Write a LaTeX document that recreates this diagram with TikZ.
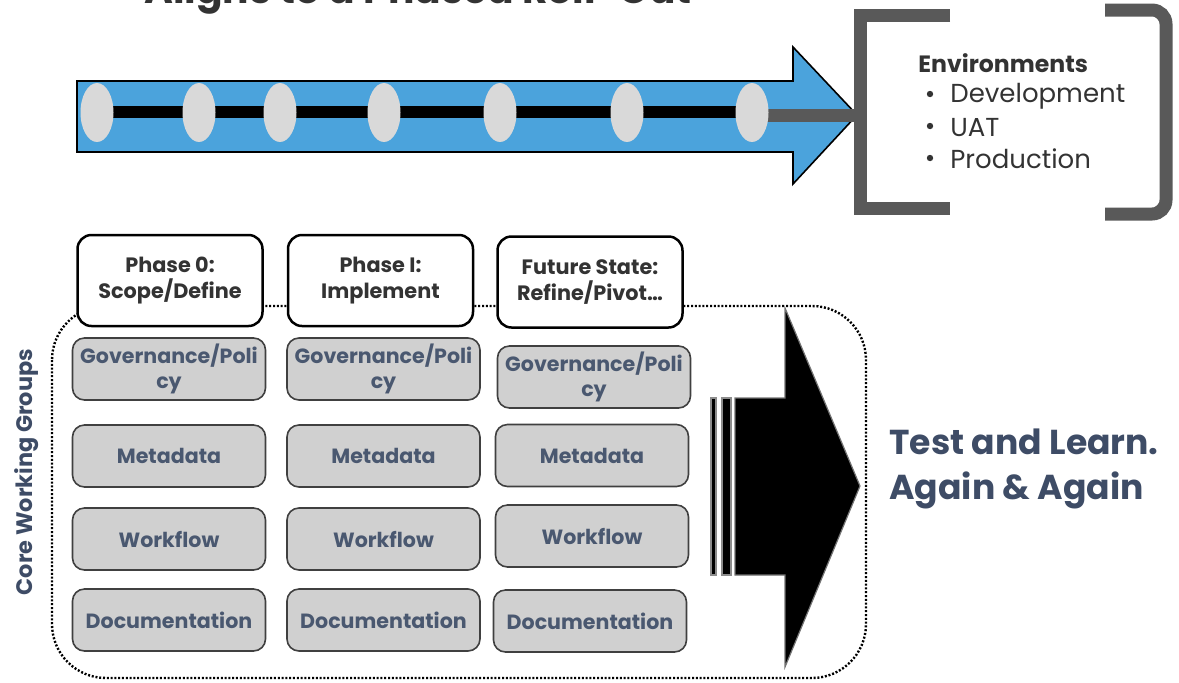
\documentclass[tikz,border=0pt]{standalone}
\usepackage{fontspec}
\setmainfont{Poppins}
\usetikzlibrary{shapes.geometric}
\definecolor{arrowblue}{HTML}{4BA3DC}
\definecolor{ellgray}{HTML}{D9D9D9}
\definecolor{brgray}{HTML}{595959}
\definecolor{boxgray}{HTML}{D0D0D0}
\definecolor{boxtext}{HTML}{4A5870}
\definecolor{slate}{HTML}{3E4C66}
\definecolor{darktext}{HTML}{333333}
\begin{document}
\begin{tikzpicture}[x=0.5pt,y=-0.5pt,
  dot/.style={ellipse, fill=ellgray, minimum width=16.5pt, minimum height=29.5pt, inner sep=0pt},
  phasebox/.style={draw=black, fill=white, line width=1.25pt, rounded corners=7pt,
    minimum width=92.5pt, minimum height=45.5pt, align=center, inner sep=1pt,
    font=\bfseries\fontsize{10.4}{13}\selectfont, text=darktext},
  groupbox/.style={draw=black!75, fill=boxgray, line width=0.8pt, rounded corners=6pt,
    minimum width=96.5pt, minimum height=31pt, align=center, inner sep=1pt,
    font=\bfseries\fontsize{10.3}{12.5}\selectfont, text=boxtext},
  bracket/.style={draw=brgray, line width=6.5pt},
  envitem/.style={anchor=west, font=\fontsize{13}{15}\selectfont, text=darktext, inner sep=0pt}
]
\useasboundingbox (0,0) rectangle (1179,682);
\clip (0,0) rectangle (1179,682);

% title (cut off at the top, as in the reference)
\node[anchor=base, font=\bfseries\fontsize{19.6}{24}\selectfont, text=darktext] (title) at (418,3) {Aligns to a Phased Roll-Out};

% blue timeline arrow
\draw[fill=arrowblue, line width=0.8pt] (77,81) -- (793,81) -- (793,47) -- (857,115) -- (793,184) -- (793,152) -- (77,152) -- cycle;
\fill[black] (97,106) rectangle (752,118);
\fill[brgray] (752,109) rectangle (858,122);
\foreach \n/\x in {1/97,2/199,3/280,4/384,5/500,6/627,7/752}
  \node[dot] (e\n) at (\x,112.5) {};

% brackets
\draw[bracket] (950,15) -- (860,15) -- (860,208.5) -- (950,208.5);
\draw[bracket, rounded corners=7pt] (1105,10) -- (1166,10) -- (1166,214) -- (1105,214);

% environments
\node[anchor=west, font=\bfseries\fontsize{11.8}{13}\selectfont, text=darktext, inner sep=0pt] (envhead) at (918,63) {Environments};
\node[envitem] (dev) at (950,96) {Development};
\node[envitem] (uat) at (950,128) {UAT};
\node[envitem] (prod) at (950,159) {Production};
\foreach \y in {94,126,158}
  \fill[darktext] (930,\y) circle (1.6pt);

% dotted container
\draw[line width=1.2pt, dash pattern=on 1pt off 0.9pt, rounded corners=27pt] (52,306) rectangle (866,678);

% black arrow
\draw[fill=black, draw=black!55, line width=0.6pt] (735,398) -- (785,398) -- (785,308) -- (860,486) -- (785,667) -- (785,575) -- (735,575) -- cycle;
\draw[fill=black, draw=black!45, line width=0.6pt] (711,398) rectangle (716,575);
\draw[fill=black, draw=black!45, line width=0.6pt] (722,398) rectangle (731,575);

% phase boxes
\node[phasebox] (p0) at (170,280.5) {Phase 0:\\Scope/Define};
\node[phasebox] (p1) at (380.5,280.5) {Phase I:\\Implement};
\node[phasebox] (p2) at (590,282) {Future State:\\Refine/Pivot\ldots};

% working groups
\node[groupbox] (g0) at (169,369) {Governance/Poli\\cy};
\node[groupbox] (m0) at (169,456) {Metadata};
\node[groupbox] (w0) at (169,539) {Workflow};
\node[groupbox] (d0) at (169,620) {Documentation};
\node[groupbox] (g1) at (383.5,369) {Governance/Poli\\cy};
\node[groupbox] (m1) at (383.5,456) {Metadata};
\node[groupbox] (w1) at (383.5,539) {Workflow};
\node[groupbox] (d1) at (383.5,620) {Documentation};
\node[groupbox] (g2) at (594,377) {Governance/Poli\\cy};
\node[groupbox] (m2) at (592,455.5) {Metadata};
\node[groupbox] (w2) at (592,536) {Workflow};
\node[groupbox] (d2) at (590,621) {Documentation};

% side label
\node[rotate=90, font=\bfseries\fontsize{11.2}{12}\selectfont, text=slate] (core) at (27,472) {Core Working Groups};

% big text
\node[anchor=west, align=left, font=\bfseries\fontsize{17.3}{22.5}\selectfont, text=slate, inner sep=0pt] (test) at (889,469) {Test and Learn.\\Again \& Again};
\end{tikzpicture}
\end{document}
